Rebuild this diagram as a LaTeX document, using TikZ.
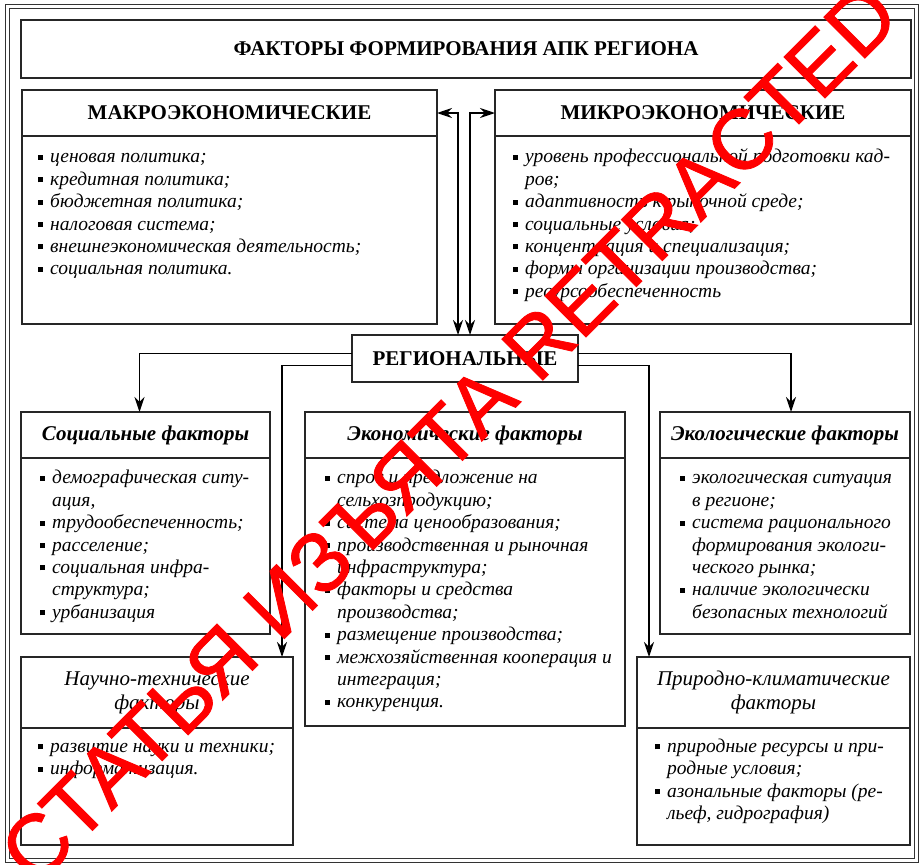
\documentclass[tikz,border=0pt]{standalone}
\usepackage{fontspec}
\setmainfont{Liberation Serif}
\newfontfamily\stampfont[FakeBold=1]{Liberation Sans}
\usetikzlibrary{arrows.meta, positioning, calc}

\newcommand\itm{\strut\makebox[12pt][l]{\rule[3pt]{5pt}{5pt}}}
\newcommand\cnt{\hspace*{12pt}}

\tikzset{
  box/.style={draw=black!85, line width=1.8pt, fill=white, inner sep=0pt, outer sep=0pt},
  capbox/.style={box, font=\fontsize{21}{24}\selectfont\bfseries},
  factbox/.style={box, font=\fontsize{21}{24}\selectfont\bfseries\itshape},
  natbox/.style={box, align=center, font=\fontsize{21}{24}\selectfont\itshape},
  list/.style={inner sep=0pt, align=left, anchor=north west, font=\fontsize{19.5}{22.4}\selectfont\itshape},
  tip/.tip={Stealth[length=15pt,width=10pt,inset=5pt]},
  link/.style={-tip, line width=1.6pt},
  biglink/.style={tip-tip, line width=1.6pt},
}

\begin{document}
\begin{tikzpicture}[x=1pt, y=-1pt]
\useasboundingbox (0,0) rectangle (922,865);
% outer frame
\draw[double, double distance=3.5pt, line width=1.1pt, draw=black!80] (7.5,6.5) rectangle (916.5,860.5);

% title
\node[capbox, minimum width=890pt, minimum height=58pt] (title) at (466,49) {ФАКТОРЫ ФОРМИРОВАНИЯ АПК РЕГИОНА};

% macro and micro level
\node[capbox, minimum width=415pt, minimum height=46pt] (macroH) at (229.5,113) {МАКРОЭКОНОМИЧЕСКИЕ};
\node[box, minimum width=415pt, minimum height=188pt, below=0pt of macroH] (macroB) {};
\node[list] (macroL) at ([xshift=16pt, yshift=-11pt]macroB.north west) {%
\itm ценовая политика;\\
\itm кредитная политика;\\
\itm бюджетная политика;\\
\itm налоговая система;\\
\itm внешнеэкономическая деятельность;\\
\itm социальная политика.};

\node[capbox, minimum width=416pt, minimum height=46pt] (microH) at (703,113) {МИКРОЭКОНОМИЧЕСКИЕ};
\node[box, minimum width=416pt, minimum height=188pt, below=0pt of microH] (microB) {};
\node[list] (microL) at ([xshift=18pt, yshift=-11pt]microB.north west) {%
\itm уровень профессиональной подготовки кад-\\
\cnt ров;\\
\itm адаптивность к рыночной среде;\\
\itm социальные условия;\\
\itm концентрация и специализация;\\
\itm формы организации производства;\\
\itm ресурсообеспеченность};

% regional level
\node[capbox, minimum width=226pt, minimum height=47pt] (reg) at (465,358.5) {РЕГИОНАЛЬНЫЕ};

% factor groups
\node[factbox, minimum width=249pt, minimum height=46pt] (socH) at (145.5,435) {Социальные факторы};
\node[box, minimum width=249pt, minimum height=176pt, below=0pt of socH] (socB) {};
\node[list] (socL) at ([xshift=19pt, yshift=-10pt]socB.north west) {%
\itm демографическая ситу-\\
\cnt ация,\\
\itm трудообеспеченность;\\
\itm расселение;\\
\itm социальная инфра-\\
\cnt структура;\\
\itm урбанизация};

\node[factbox, minimum width=320pt, minimum height=46pt] (ecoH) at (465,435) {Экономические факторы};
\node[box, minimum width=320pt, minimum height=268pt, below=0pt of ecoH] (ecoB) {};
\node[list] (ecoL) at ([xshift=20pt, yshift=-10pt]ecoB.north west) {%
\itm спрос и предложение на\\
\cnt сельхозпродукцию;\\
\itm система ценообразования;\\
\itm производственная и рыночная\\
\cnt инфраструктура;\\
\itm факторы и средства\\
\cnt производства;\\
\itm размещение производства;\\
\itm межхозяйственная кооперация и\\
\cnt интеграция;\\
\itm конкуренция.};

\node[factbox, minimum width=250pt, minimum height=46pt] (ecolH) at (785,435) {Экологические факторы};
\node[box, minimum width=250pt, minimum height=176pt, below=0pt of ecolH] (ecolB) {};
\node[list] (ecolL) at ([xshift=20pt, yshift=-10pt]ecolB.north west) {%
\itm экологическая ситуация\\
\cnt в регионе;\\
\itm система рационального\\
\cnt формирования экологи-\\
\cnt ческого рынка;\\
\itm наличие экологически\\
\cnt безопасных технологий};

\node[natbox, minimum width=272pt, minimum height=71pt] (sciH) at (157,692.5) {Научно-технические\\факторы};
\node[box, minimum width=272pt, minimum height=117pt, below=0pt of sciH] (sciB) {};
\node[list] (sciL) at ([xshift=17pt, yshift=-8.5pt]sciB.north west) {%
\itm развитие науки и техники;\\
\itm информатизация.};

\node[natbox, minimum width=273pt, minimum height=71pt] (natH) at (773.5,692.5) {Природно-климатические\\факторы};
\node[box, minimum width=273pt, minimum height=117pt, below=0pt of natH] (natB) {};
\node[list] (natL) at ([xshift=18pt, yshift=-8.5pt]natB.north west) {%
\itm природные ресурсы и при-\\
\cnt родные условия;\\
\itm азональные факторы (ре-\\
\cnt льеф, гидрография)};

% connectors
\draw[biglink] (macroH.east) -| ([xshift=-7pt]reg.north);
\draw[biglink] (microH.west) -| ([xshift=5pt]reg.north);
\draw[link] ([yshift=5pt]reg.west) -| ([xshift=-6pt]socH.north);
\draw[link] ([yshift=-7pt]reg.west) -| ([xshift=-11pt]sciH.north east);
\draw[link] ([yshift=5pt]reg.east) -| ([xshift=6pt]ecolH.north);
\draw[link] ([yshift=-7pt]reg.east) -| ([xshift=12pt]natH.north west);

% stamp
\node[text=red, font=\stampfont\fontsize{84.5}{84.5}\selectfont, rotate=45] (stamp) at (449,433) {СТАТЬЯ ИЗЪЯТА RETRACTED};
\end{tikzpicture}
\end{document}
